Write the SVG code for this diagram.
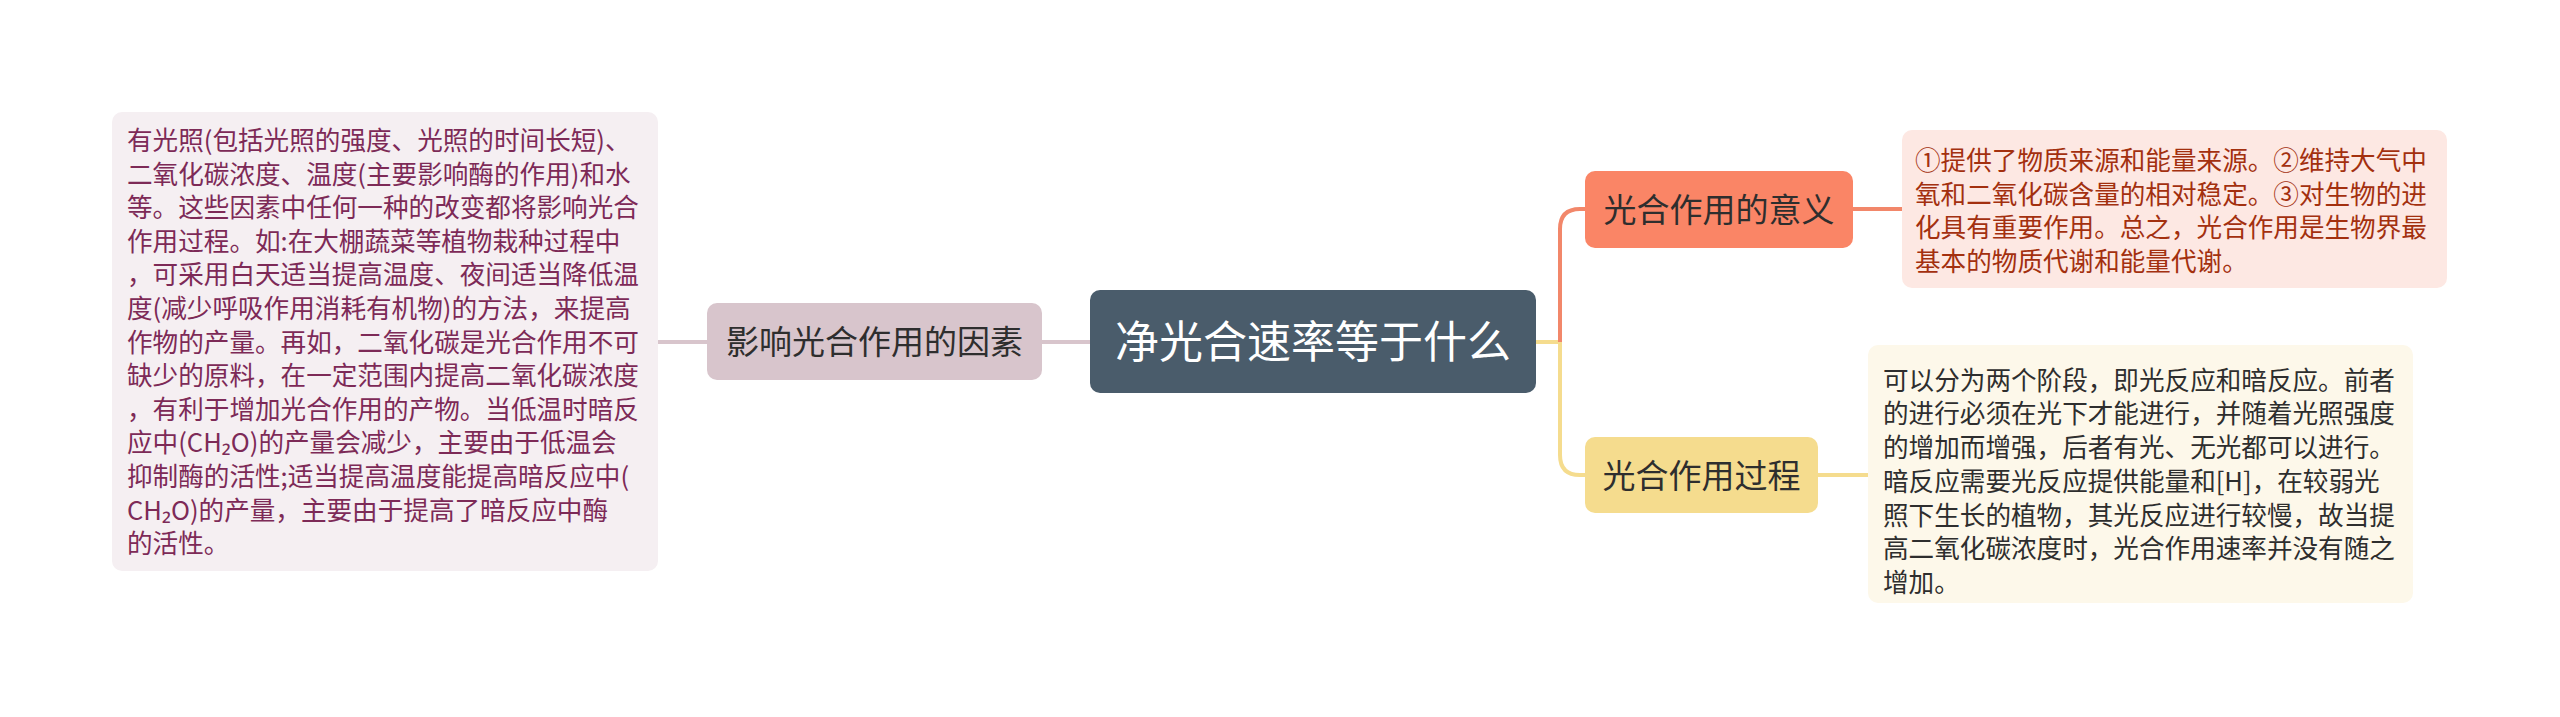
<svg xmlns="http://www.w3.org/2000/svg" width="2560" height="717" viewBox="0 0 2560 717">
<style>
text{font-family:"Noto Sans CJK SC","Noto Sans",sans-serif;}
.conn{fill:none;stroke-width:4;stroke-linecap:butt;}
.main{font-size:44px;fill:#ffffff;text-anchor:middle;}
.topic{font-size:33px;fill:#2e2e2e;text-anchor:middle;}
.body{font-size:25.6px;}
.lt{fill:#7d2a57;}
.rt{fill:#a3300f;}
.rb{fill:#2e2e2e;}
</style>
<rect width="2560" height="717" fill="#ffffff"/>
<g id="connectors">
<path class="conn" stroke="#d8c5cc" d="M658 342 H707"/>
<path class="conn" stroke="#d8c5cc" d="M1042 342 H1090"/>
<path class="conn" stroke="#f5dc8e" d="M1536 342 H1560"/>
<path class="conn" stroke="#f2876a" d="M1560 342 V229 Q1560 209 1580 209 H1585"/>
<path class="conn" stroke="#f5dc8e" d="M1560 342 V455 Q1560 475 1580 475 H1585"/>
<path class="conn" stroke="#f2876a" d="M1853 209 H1902"/>
<path class="conn" stroke="#f5dc8e" d="M1818 475 H1868"/>
</g>
<g id="factors-detail">
<rect x="112" y="112" width="546" height="459" rx="10" fill="#f5eff2"/>
<text class="body lt">
<tspan x="127" y="150">有光照(包括光照的强度、光照的时间长短)、</tspan>
<tspan x="127" y="183.6">二氧化碳浓度、温度(主要影响酶的作用)和水</tspan>
<tspan x="127" y="217.2">等。这些因素中任何一种的改变都将影响光合</tspan>
<tspan x="127" y="250.8">作用过程。如:在大棚蔬菜等植物栽种过程中</tspan>
<tspan x="127" y="284.4">，可采用白天适当提高温度、夜间适当降低温</tspan>
<tspan x="127" y="318">度(减少呼吸作用消耗有机物)的方法，来提高</tspan>
<tspan x="127" y="351.6">作物的产量。再如，二氧化碳是光合作用不可</tspan>
<tspan x="127" y="385.2">缺少的原料，在一定范围内提高二氧化碳浓度</tspan>
<tspan x="127" y="418.8">，有利于增加光合作用的产物。当低温时暗反</tspan>
<tspan x="127" y="452.4">应中(CH₂O)的产量会减少，主要由于低温会</tspan>
<tspan x="127" y="486">抑制酶的活性;适当提高温度能提高暗反应中(</tspan>
<tspan x="127" y="519.6">CH₂O)的产量，主要由于提高了暗反应中酶</tspan>
<tspan x="127" y="553.2">的活性。</tspan>
</text>
</g>
<g id="factors">
<rect x="707" y="303" width="335" height="77" rx="10" fill="#d8c5cc"/>
<text class="topic" x="874.5" y="354">影响光合作用的因素</text>
</g>
<g id="root">
<rect x="1090" y="290" width="446" height="103" rx="10" fill="#4a5c6b"/>
<text class="main" x="1313" y="358">净光合速率等于什么</text>
</g>
<g id="meaning">
<rect x="1585" y="171" width="268" height="77" rx="10" fill="#fa8566"/>
<text class="topic" x="1719" y="222">光合作用的意义</text>
</g>
<g id="meaning-detail">
<rect x="1902" y="130" width="545" height="158" rx="10" fill="#fde8e3"/>
<text class="body rt">
<tspan x="1915" y="169.7">①提供了物质来源和能量来源。②维持大气中</tspan>
<tspan x="1915" y="203.5">氧和二氧化碳含量的相对稳定。③对生物的进</tspan>
<tspan x="1915" y="237.3">化具有重要作用。总之，光合作用是生物界最</tspan>
<tspan x="1915" y="271.1">基本的物质代谢和能量代谢。</tspan>
</text>
</g>
<g id="process">
<rect x="1585" y="437" width="233" height="76" rx="10" fill="#f5dc8e"/>
<text class="topic" x="1701.5" y="487.5">光合作用过程</text>
</g>
<g id="process-detail">
<rect x="1868" y="345" width="545" height="258" rx="10" fill="#fdf8ea"/>
<text class="body rb">
<tspan x="1883" y="389.7">可以分为两个阶段，即光反应和暗反应。前者</tspan>
<tspan x="1883" y="423.4">的进行必须在光下才能进行，并随着光照强度</tspan>
<tspan x="1883" y="457.1">的增加而增强，后者有光、无光都可以进行。</tspan>
<tspan x="1883" y="490.8">暗反应需要光反应提供能量和[H]，在较弱光</tspan>
<tspan x="1883" y="524.5">照下生长的植物，其光反应进行较慢，故当提</tspan>
<tspan x="1883" y="558.2">高二氧化碳浓度时，光合作用速率并没有随之</tspan>
<tspan x="1883" y="591.9">增加。</tspan>
</text>
</g>
</svg>
